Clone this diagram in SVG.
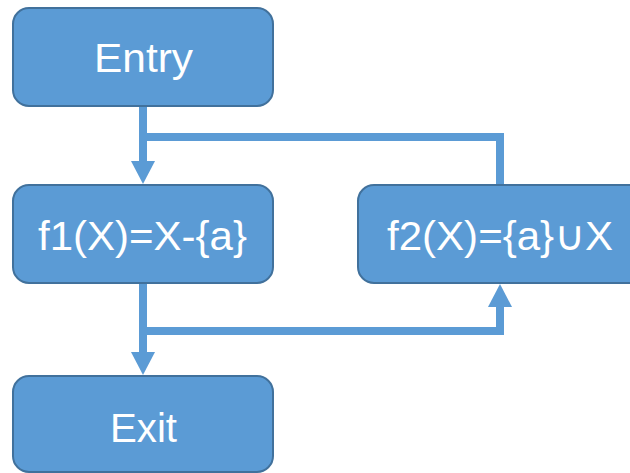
<svg xmlns="http://www.w3.org/2000/svg" width="630" height="473" viewBox="0 0 630 473">
<style>
.box{fill:#5B9BD5;stroke:#41719C;stroke-width:2}
.lbl{fill:#FFFFFF;font-family:"Liberation Sans","DejaVu Sans",sans-serif;font-size:41px;text-anchor:middle}
.conn{fill:none;stroke:#5B9BD5;stroke-width:8}
.head{fill:#5B9BD5}
</style>
<rect width="630" height="473" fill="#FFFFFF"/>
<g id="connectors">
<path class="conn" d="M143,106 V162"/>
<path class="conn" d="M143,137 H500 V185"/>
<polygon class="head" points="131,161 155,161 143,184"/>
<path class="conn" d="M143,283 V353"/>
<path class="conn" d="M143,331 H500 V306"/>
<polygon class="head" points="131,352 155,352 143,375"/>
<polygon class="head" points="488,307 512,307 500,284"/>
</g>
<g id="entry">
<rect class="box" x="13" y="8" width="260" height="98" rx="16"/>
<text class="lbl" x="143.5" y="72" textLength="99" lengthAdjust="spacingAndGlyphs">Entry</text>
</g>
<g id="f1">
<rect class="box" x="13" y="185" width="260" height="98" rx="16"/>
<text class="lbl" x="142.5" y="250" textLength="209" lengthAdjust="spacingAndGlyphs">f1(X)=X-{a}</text>
</g>
<g id="f2">
<rect class="box" x="358" y="185" width="290" height="98" rx="16"/>
<text class="lbl" x="500" y="250" textLength="226" lengthAdjust="spacingAndGlyphs">f2(X)={a}∪X</text>
</g>
<g id="exit">
<rect class="box" x="13" y="376" width="260" height="96" rx="16"/>
<text class="lbl" x="143.5" y="442" textLength="67" lengthAdjust="spacingAndGlyphs">Exit</text>
</g>
</svg>
